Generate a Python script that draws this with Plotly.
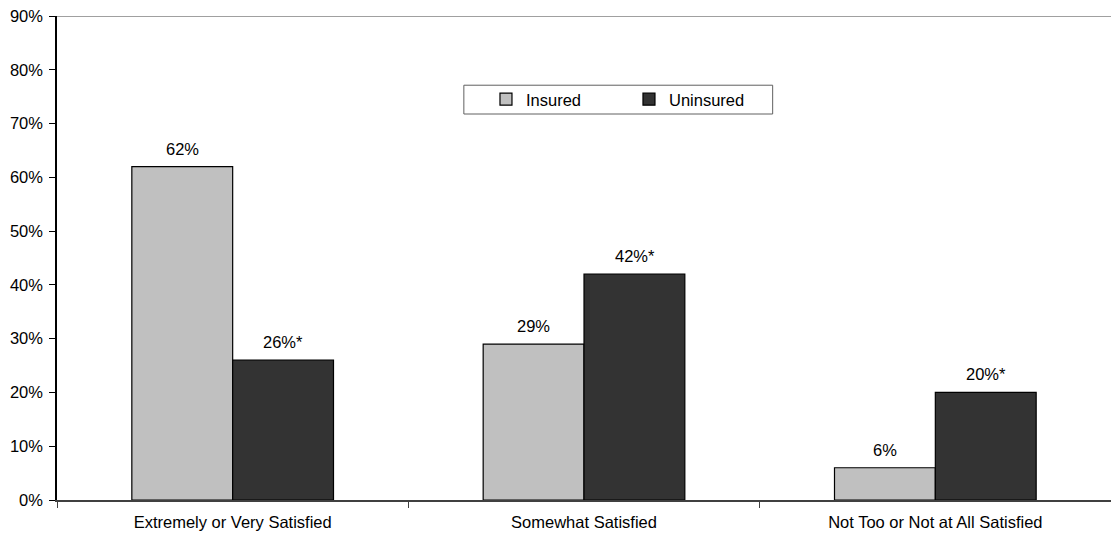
import plotly.graph_objects as go

categories = ["Extremely or Very Satisfied", "Somewhat Satisfied", "Not Too or Not at All Satisfied"]
insured = [62, 29, 6]
uninsured = [26, 42, 20]
insured_labels = ["62%", "29%", "6%"]
uninsured_labels = ["26%*", "42%*", "20%*"]
y_ticks = [0, 10, 20, 30, 40, 50, 60, 70, 80, 90]
y_tick_text = [f"{v}%" for v in y_ticks]

font = dict(family="Liberation Sans, Arial, sans-serif", size=16.5, color="#000000")

fig = go.Figure()
fig.add_trace(go.Bar(
    name="Insured", x=categories, y=insured,
    marker=dict(color="#C0C0C0", line=dict(color="#000000", width=1.2)),
))
fig.add_trace(go.Bar(
    name="Uninsured", x=categories, y=uninsured,
    marker=dict(color="#333333", line=dict(color="#000000", width=1.2)),
))

# value labels above each bar
half_bar_px = 50.5
for cat, v, lab in zip(categories, insured, insured_labels):
    fig.add_annotation(x=cat, y=v, text=lab, showarrow=False, xshift=-half_bar_px,
                       yanchor="bottom", yshift=7, font=font)
for cat, v, lab in zip(categories, uninsured, uninsured_labels):
    fig.add_annotation(x=cat, y=v, text=lab, showarrow=False, xshift=half_bar_px,
                       yanchor="bottom", yshift=7, font=font)

# top border of the plotting area
fig.add_shape(type="line", xref="paper", yref="y", x0=0, x1=1, y0=90, y1=90,
              line=dict(color="#808080", width=1.5))
# legend frame
fig.add_shape(type="rect", xref="paper", yref="paper",
              x0=0.386, x1=0.679, y0=0.7975, y1=0.857,
              line=dict(color="#606060", width=1), fillcolor="white", layer="below")

fig.update_layout(
    width=1111, height=538,
    margin=dict(l=57, r=0, t=16, b=38),
    paper_bgcolor="white", plot_bgcolor="white",
    barmode="group", bargap=0.426, bargroupgap=0,
    font=font,
    showlegend=True,
    legend=dict(
        orientation="h", x=0.407, y=0.8275, xanchor="left", yanchor="middle",
        borderwidth=0, bgcolor="rgba(0,0,0,0)",
        entrywidth=98, entrywidthmode="pixels",
        font=font, traceorder="normal",
    ),
    xaxis=dict(
        showline=True, linecolor="#404040", linewidth=1.5,
        ticks="outside", tickson="boundaries", ticklen=6, tickcolor="#404040",
        showgrid=False, tickfont=font, ticklabelstandoff=6,
    ),
    yaxis=dict(
        range=[0, 90], tickmode="array", tickvals=y_ticks, ticktext=y_tick_text,
        showline=True, linecolor="#000000", linewidth=1.5,
        ticks="outside", ticklen=6, tickcolor="#000000",
        showgrid=False, zeroline=False, tickfont=font, ticklabelstandoff=3,
    ),
)

fig.write_html("out.html")
